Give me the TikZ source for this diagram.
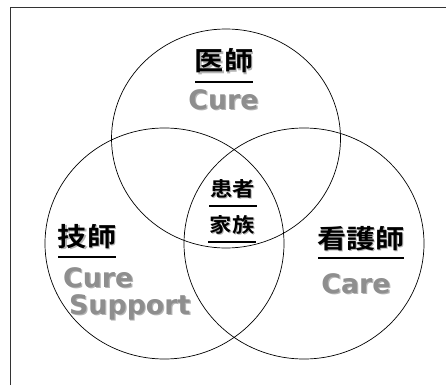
\documentclass[tikz,border=0pt]{standalone}
\usepackage{fontspec}
\usepackage{graphicx}
\newfontfamily\jpfont{Noto Sans CJK JP Bold}
\newfontfamily\latfont{DejaVu Sans}
\definecolor{txtgray}{HTML}{8E8E8E}
\definecolor{shadowgray}{HTML}{B4B4B4}
\newcommand{\jpbig}[1]{\scalebox{1.12}[1]{#1}}
\begin{document}
\begin{tikzpicture}[x=1pt,y=-1pt,
  venn/.style={draw=black,line width=0.7pt},
  jpl/.style={font=\jpfont\fontsize{26}{26}\selectfont,inner sep=0pt,anchor=base},
  jps/.style={font=\jpfont\fontsize{20}{20}\selectfont,inner sep=0pt,anchor=base},
  gl/.style={font=\latfont\bfseries\fontsize{26.8}{27}\selectfont,inner sep=0pt,anchor=base,text=txtgray},
  shd/.style={text=shadowgray},
  uline/.style={line width=2pt,black}]
\useasboundingbox (0,0) rectangle (446,385);
\draw[line width=1pt,black!80] (10,385) -- (10,8) -- (446,8);
% circles
\draw[venn] (226,138.5) ellipse [x radius=114.5, y radius=109.5];
\draw[venn] (164.5,243.5) ellipse [x radius=119.5, y radius=115.5];
\draw[venn] (304,243.5) ellipse [x radius=120, y radius=115.5];
% top
\node[jpl,shd] at (225.2,72.2) {\jpbig{医師}};
\node[jpl] (ishi) at (224,71) {\jpbig{医師}};
\draw[uline] (195,82) coordinate (u1a) -- (253,82) coordinate (u1b);
\node[gl,shd] at (224.7,110.2) {Cure};
\node[gl] (cure1) at (223.5,109) {Cure};
% left
\node[jpl,shd] at (88.2,247.2) {\jpbig{技師}};
\node[jpl] (gishi) at (87,246) {\jpbig{技師}};
\draw[uline] (58,257) coordinate (u2a) -- (116,257) coordinate (u2b);
\node[gl,shd,anchor=base west] at (64.2,288.2) {Cure};
\node[gl,anchor=base west] (cure2) at (63,287) {Cure};
\node[gl,shd,anchor=base west] at (70.2,315.2) {Support};
\node[gl,anchor=base west] (support) at (69,314) {Support};
% right
\node[jpl,shd] at (362.2,249.2) {\jpbig{看護師}};
\node[jpl] (kango) at (361,248) {\jpbig{看護師}};
\draw[uline] (318,258) coordinate (u3a) -- (404,258) coordinate (u3b);
\node[gl,shd] at (357.2,294.2) {Care};
\node[gl] (care) at (356,293) {Care};
% center
\node[jps,shd] at (233.7,197.2) {\jpbig{患者}};
\node[jps] (kanja) at (232.5,196) {\jpbig{患者}};
\draw[uline] (209,206) coordinate (u4a) -- (257,206) coordinate (u4b);
\node[jps,shd] at (233.2,233.2) {\jpbig{家族}};
\node[jps] (kazoku) at (232,232) {\jpbig{家族}};
\draw[uline] (208,242) coordinate (u5a) -- (256,242) coordinate (u5b);
\end{tikzpicture}
\end{document}
